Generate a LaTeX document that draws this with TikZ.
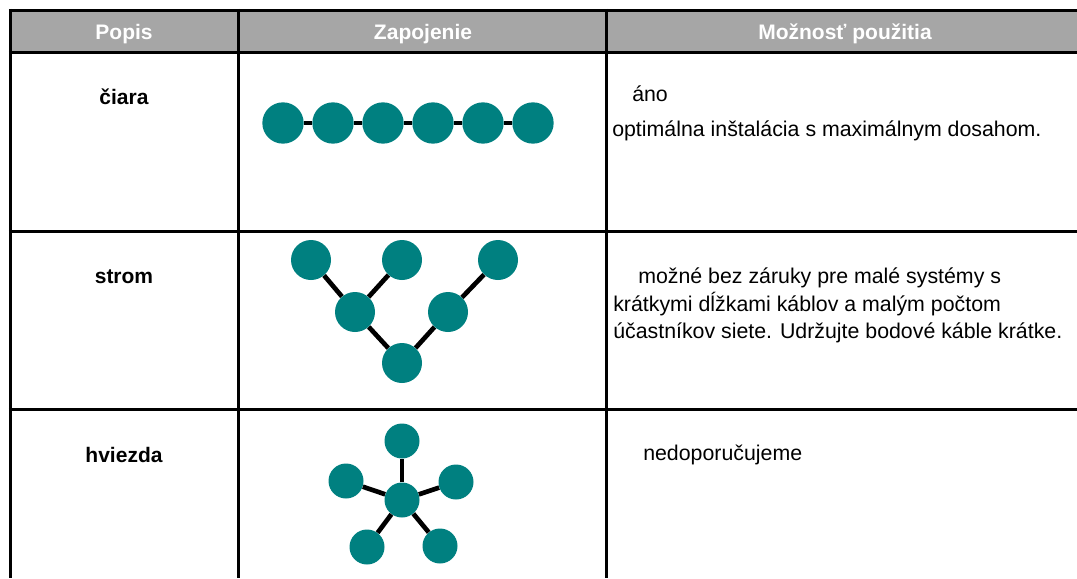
\documentclass[tikz,border=0pt]{standalone}
\usepackage{fontspec}
\setmainfont{Liberation Sans}
\usetikzlibrary{positioning}
\definecolor{myteal}{RGB}{0,128,128}
\definecolor{mygray}{RGB}{166,166,166}
\tikzset{
  dot/.style={circle, fill=myteal, draw=none, inner sep=0, minimum size=31pt},
  treedot/.style={dot, minimum size=30pt},
  stardot/.style={dot, minimum size=26.25pt},
  link/.style={line width=3.5pt, draw=black},
  grid/.style={line width=2.25pt, draw=black},
  headtext/.style={text=white, font=\fontsize{15.75}{18}\selectfont\bfseries, anchor=base, inner sep=0},
  rowtext/.style={font=\fontsize{15.75}{18}\selectfont\bfseries, anchor=base, inner sep=0},
  noborder/.style={font=\fontsize{16}{18}\selectfont, anchor=base west, inner sep=0}
}
\begin{document}
\begin{tikzpicture}[x=0.75pt, y=-0.75pt]
\useasboundingbox (0,0) rectangle (1077,578);

% table
\fill[mygray] (10,10) rectangle (1077,52);
\foreach \y in {10,52,231,409}
  \draw[grid] (8.9,\y) -- (1077,\y);
\foreach \x in {10,238,606}
  \draw[grid] (\x,8.9) -- (\x,578);

\node [headtext] (popis) at (124,39) {Popis};
\node [headtext] (zapojenie) at (423,39) {Zapojenie};
\node [headtext] (moznost) at (845,39) {Možnosť použitia};

\node [rowtext] (ciara) at (124,104) {čiara};
\node [rowtext] (strom) at (124,283) {strom};
\node [rowtext] (hviezda) at (124,462) {hviezda};

% line
\foreach \i in {0,...,5}
  \node [dot] (l\i) at (283+50*\i,123) {};
\foreach \i [count=\j] in {0,...,4}
  \draw[link] (l\i) -- (l\j);

% tree
\node [treedot] (t1) at (311,260) {};
\node [treedot] (t2) at (402,260) {};
\node [treedot] (t3) at (498,260) {};
\node [treedot] (t4) at (355,312) {};
\node [treedot] (t5) at (448,312) {};
\node [treedot] (t6) at (402,363) {};
\draw[link] (t1) -- (t4);
\draw[link] (t2) -- (t4);
\draw[link] (t4) -- (t6);
\draw[link] (t6) -- (t5);
\draw[link] (t5) -- (t3);

% star
\node [stardot] (s0) at (402,500) {};
\node [stardot] (s1) at (402,441) {};
\node [stardot] (s2) at (346,481) {};
\node [stardot] (s3) at (456,482) {};
\node [stardot] (s4) at (367,547) {};
\node [stardot] (s5) at (440,546) {};
\foreach \k in {1,...,5}
  \draw[link] (s0) -- (s\k);

\node [noborder] (ano) at (632,101) {áno};
\node [noborder] (ano2) at (612,136) {optimálna inštalácia s maximálnym dosahom.};

\node [noborder] (mozne) at (638,283) {možné bez záruky pre malé systémy s};
\node [noborder] (mozne2) at (613,311) {krátkymi dĺžkami káblov a malým počtom};
\node [noborder] (mozne3) at (613,338) {účastníkov siete. Udržujte bodové káble krátke.};

\node [noborder] (nedop) at (643,460) {nedoporučujeme};

\end{tikzpicture}
\end{document}
